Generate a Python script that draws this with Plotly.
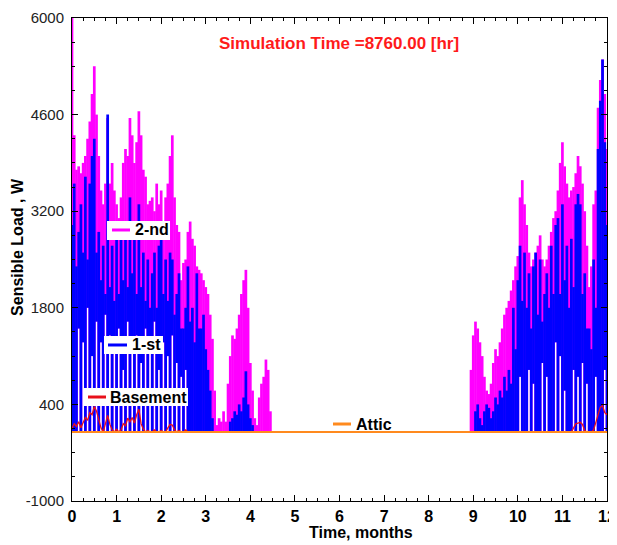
import plotly.graph_objects as go

FONT = "Arial, Liberation Sans, sans-serif"

# ---------------- data ----------------
STEP = 0.05  # months between samples (~1.5 days)

# Heating season 1: t = 0.00 ... 4.50 months
second_floor_hi_1 = [
    6000, 4300, 3800, 3850, 3750, 3900, 4000, 4250, 4500, 4900,
    5300, 4600, 4000, 3500, 3300, 3600, 4550, 3600, 3900, 3500,
    3300, 3100, 3400, 3900, 4100, 4000, 4550, 4300, 3900, 4200,
    4650, 4300, 3800, 3700, 3300, 3350, 3400, 3200, 3600, 3300,
    3500, 3000, 3400, 3600, 4000, 4300, 3400, 3000, 2900, 2200,
    2450, 2500, 2900, 3050, 2800, 2700, 2400, 2350, 2300, 2200,
    2100, 2000, 1700, 1350, 600, 100, 200, 150, 300, 150,
    700, 1100, 1400, 1350, 1500, 1700, 2000, 2200, 2350, 1800,
    1000, 600, 200, 100, 500, 700, 800, 1050, 900, 300,
    0]
second_floor_lo_1 = [
    0, 0, 0, 1500, 0, 1300, 0, 1800, 0, 1100,
    0, 1600, 0, 1300, 0, 1700, 0, 1400, 0, 1200,
    0, 1500, 0, 900, 0, 1600, 0, 1200, 0, 1400,
    0, 1000, 0, 1500, 0, 1200, 0, 1600, 0, 900,
    0, 1300, 0, 1100, 0, 1400, 0, 1000, 0, 800,
    0, 900, 0, 0, 0, 0, 0, 0, 0, 0,
    0, 0, 0, 0, 0, 0, 0, 0, 0, 0,
    0, 0, 0, 0, 0, 0, 0, 0, 0, 0,
    0, 0, 0, 0, 0, 0, 0, 0, 0, 0,
    0]
first_floor_hi_1 = [
    3000, 3600, 2400, 2900, 3300, 2600, 3700, 2500, 3600, 4000,
    4250, 2600, 2900, 2200, 2700, 2000, 4600, 2100, 2700, 1900,
    2800, 2000, 2900, 2200, 2800, 2100, 3400, 2300, 3000, 2000,
    3300, 2100, 2600, 1900, 2500, 1800, 2300, 2600, 1800, 2700,
    2800, 2000, 2500, 1900, 2600, 2500, 1700, 2000, 2300, 1500,
    1500, 1800, 2400, 1600, 1800, 1300, 2300, 1500, 1500, 1700,
    1200, 900, 600, 200, 0, 0, 0, 0, 0, 0,
    0, 150, 200, 300, 250, 400, 300, 500, 880, 400,
    200, 100, 0, 0, 0, 0, 0, 0, 0, 0,
    0]
first_floor_lo_1 = [
    0, 0, 0, 1500, 0, 1300, 0, 1800, 0, 1100,
    0, 1600, 0, 1300, 0, 1700, 0, 1400, 0, 1200,
    0, 1500, 0, 900, 0, 1600, 0, 1200, 0, 1400,
    0, 1000, 0, 1500, 0, 1200, 0, 1600, 0, 900,
    0, 1300, 0, 1100, 0, 1400, 0, 1000, 0, 800,
    0, 900, 0, 0, 0, 0, 0, 0, 0, 0,
    0, 0, 0, 0, 0, 0, 0, 0, 0, 0,
    0, 0, 0, 0, 0, 0, 0, 0, 0, 0,
    0, 0, 0, 0, 0, 0, 0, 0, 0, 0,
    0]

# Heating season 2: t = 8.90 ... 12.00 months
SEASON2_START = 8.9
second_floor_hi_2 = [
    0, 900, 1400, 1600, 1500, 1300, 1100, 800, 600, 550,
    700, 1000, 1200, 1100, 1300, 1500, 1700, 1800, 1900, 2050,
    2200, 2400, 2550, 3400, 3650, 3300, 3000, 2600, 2400, 2500,
    2600, 2700, 2850, 2500, 2400, 2500, 2700, 2900, 3100, 3200,
    3500, 3900, 4200, 3850, 3600, 3400, 3500, 3550, 3750, 4000,
    3850, 3600, 3200, 2700, 2100, 2400, 3300, 3500, 4700, 5100,
    5400, 4900, 4100]
second_floor_lo_2 = [
    0, 0, 0, 0, 0, 0, 0, 0, 0, 0,
    0, 0, 0, 0, 0, 0, 0, 0, 0, 0,
    0, 0, 0, 800, 0, 0, 0, 900, 0, 700,
    0, 0, 0, 1000, 0, 800, 0, 0, 0, 1300,
    0, 1100, 0, 600, 0, 0, 0, 900, 0, 800,
    0, 1000, 0, 700, 0, 0, 0, 800, 0, 0,
    0, 900, 0]
first_floor_hi_2 = [
    0, 0, 0, 300, 400, 200, 100, 300, 400, 350,
    200, 300, 500, 400, 600, 500, 800, 600, 900, 700,
    1800, 1200, 2200, 2700, 1900, 2600, 1800, 2300, 1500, 2400,
    2600, 1700, 2500, 1600, 2000, 2300, 1800, 2700, 2000, 3000,
    3100, 2000, 3300, 2200, 2700, 1800, 2800, 2100, 3300, 3450,
    3300, 2000, 2300, 1500, 1500, 1200, 2500, 1800, 4100, 4800,
    5400, 4200, 3000]
first_floor_lo_2 = [
    0, 0, 0, 0, 0, 0, 0, 0, 0, 0,
    0, 0, 0, 0, 0, 0, 0, 0, 0, 0,
    0, 0, 0, 800, 0, 0, 0, 900, 0, 700,
    0, 0, 0, 1000, 0, 800, 0, 0, 0, 1300,
    0, 1100, 0, 600, 0, 0, 0, 900, 0, 800,
    0, 1000, 0, 700, 0, 0, 0, 800, 0, 0,
    0, 900, 0]

# Basement: t = 0.00 ... 2.60 and t = 11.20 ... 12.00
basement_1 = [
    50, 120, 80, 150, 60, 130, 210, 170, 280, 250,
    370, 300, 180, 60, 0, 120, 240, 110, 30, 0,
    40, 0, 30, 120, 90, 200, 150, 210, 130, 250,
    330, 120, 40, 0, 20, 0, 0, 30, 0, 0,
    20, 0, 0, 60, 110, 100, 30, 0, 20, 0,
    0, 30, 0]
BASEMENT2_START = 11.2
basement_2 = [0, 60, 120, 130, 140, 110, 20, 0, 0, 0, 30, 150, 280, 360, 380, 280, 250]

# Attic: no load all year (monthly points)
attic_months = [0, 1, 2, 3, 4, 5, 6, 7, 8, 9, 10, 11, 12]
attic_load = [0, 0, 0, 0, 0, 0, 0, 0, 0, 0, 0, 0, 0]

x_ticks = [0, 1, 2, 3, 4, 5, 6, 7, 8, 9, 10, 11, 12]
y_ticks = [-1000, 400, 1800, 3200, 4600, 6000]

series_names = ["2-nd", "1-st", "Basement", "Attic"]


# ---------------- helpers ----------------
def times(start, n):
    return [round(start + STEP * i, 4) for i in range(n)]


def min_max_columns(t, lo, hi):
    """Each sample's min..max range drawn as its own vertical stroke."""
    xs, ys = [], []
    for tt, a, b in zip(t, lo, hi):
        if b <= 0:
            continue
        xs += [tt, tt, None]
        ys += [a, b, None]
    return xs, ys


def season_trace(lo1, hi1, lo2, hi2):
    x1, y1 = min_max_columns(times(0.0, len(hi1)), lo1, hi1)
    x2, y2 = min_max_columns(times(SEASON2_START, len(hi2)), lo2, hi2)
    return x1 + x2, y1 + y2


MAGENTA = "#FF00FF"
BLUE = "#0000FF"
RED = "#E8101A"
ORANGE = "#FF8A1E"
colors = [MAGENTA, BLUE, RED, ORANGE]

fig = go.Figure()

x2nd, y2nd = season_trace(second_floor_lo_1, second_floor_hi_1,
                          second_floor_lo_2, second_floor_hi_2)
fig.add_trace(go.Scatter(x=x2nd, y=y2nd, mode="lines", name=series_names[0],
                         line=dict(color=MAGENTA, width=2.7), showlegend=False))

x1st, y1st = season_trace(first_floor_lo_1, first_floor_hi_1,
                          first_floor_lo_2, first_floor_hi_2)
fig.add_trace(go.Scatter(x=x1st, y=y1st, mode="lines", name=series_names[1],
                         line=dict(color=BLUE, width=2.7), showlegend=False))

xb = times(0.0, len(basement_1)) + times(BASEMENT2_START, len(basement_2))
yb = basement_1 + basement_2
fig.add_trace(go.Scatter(x=xb, y=yb, mode="lines", name=series_names[2],
                         line=dict(color=RED, width=1.3), showlegend=False))

fig.add_trace(go.Scatter(x=attic_months, y=attic_load, mode="lines", name=series_names[3],
                         line=dict(color=ORANGE, width=2), showlegend=False))

# ---------------- in-plot labels (legend keys), paper coordinates ----------------
# (box x0, box x1, box y0, box y1, key x0, key x1, row y, text x)
label_layout = [
    (0.0654, 0.1832, 0.5404, 0.5797, 0.0748, 0.1084, 0.5611, 0.1140),
    (0.0598, 0.1701, 0.3043, 0.3416, 0.0673, 0.1028, 0.3230, 0.1085),
    (0.0224, 0.2168, 0.1967, 0.2340, 0.0299, 0.0636, 0.2153, 0.0675),
    (0.4804, 0.5963, 0.1470, 0.1781, 0.4879, 0.5215, 0.1594, 0.5272),
]
shapes, annotations = [], []
for name, col, (bx0, bx1, by0, by1, kx0, kx1, ky, tx) in zip(series_names, colors, label_layout):
    shapes.append(dict(type="rect", xref="paper", yref="paper", x0=bx0, x1=bx1,
                       y0=by0, y1=by1, fillcolor="white", line=dict(width=0),
                       layer="above"))
    shapes.append(dict(type="line", xref="paper", yref="paper", x0=kx0, x1=kx1,
                       y0=ky, y1=ky, line=dict(color=col, width=3), layer="above"))
    annotations.append(dict(text=f"<b>{name}</b>", xref="paper", yref="paper",
                            x=tx, y=ky, xanchor="left", yanchor="middle",
                            showarrow=False,
                            font=dict(family=FONT, size=16, color="black")))

annotations += [
    dict(text="<b>Simulation Time =8760.00 [hr]</b>", xref="paper", yref="paper",
         x=0.499, y=0.948, xanchor="center", yanchor="middle", showarrow=False,
         font=dict(family=FONT, size=17, color="#FF1A1A")),
    dict(text="<b>Time, months</b>", xref="paper", yref="paper",
         x=0.540, y=-0.066, xanchor="center", yanchor="middle", showarrow=False,
         font=dict(family=FONT, size=16, color="black")),
    dict(text="<b>Sensible Load , W</b>", xref="paper", yref="paper",
         x=-0.101, y=0.526, xanchor="center", yanchor="middle", showarrow=False,
         textangle=-90, font=dict(family=FONT, size=16, color="black")),
]

# The page body has an 8px default margin, so the figure is sized/margined
# to put the plot frame where the reference has it in the 617x545 window.
fig.update_layout(
    width=609, height=537,
    margin=dict(l=64, r=10, t=10, b=44, autoexpand=False),
    paper_bgcolor="white", plot_bgcolor="white",
    font=dict(family=FONT, color="black"),
    showlegend=False,
    shapes=shapes,
    annotations=annotations,
)

fig.update_xaxes(
    range=[0, 12], tickmode="array", tickvals=x_ticks,
    ticktext=[str(v) for v in x_ticks],
    ticks="inside", ticklen=6, tickwidth=1, tickcolor="black",
    showline=True, linecolor="black", linewidth=1, mirror="ticks",
    showgrid=False, zeroline=False, ticklabelstandoff=1,
    ticklabeloverflow="allow",
    tickfont=dict(family=FONT, size=16, color="black", weight="bold"),
    minor=dict(tick0=0, dtick=0.25, ticks="inside", ticklen=3,
               tickcolor="black", showgrid=False),
)
fig.update_yaxes(
    range=[-1000, 6000], tickmode="array", tickvals=y_ticks,
    ticktext=[str(v) for v in y_ticks],
    ticks="inside", ticklen=6, tickwidth=1, tickcolor="black",
    showline=True, linecolor="black", linewidth=1, mirror="ticks",
    showgrid=False, zeroline=False, ticklabelstandoff=4,
    tickfont=dict(family=FONT, size=15, color="#222222"),
    minor=dict(tick0=-1000, dtick=350, ticks="inside", ticklen=3,
               tickcolor="black", showgrid=False),
)

fig.write_html("out.html")
